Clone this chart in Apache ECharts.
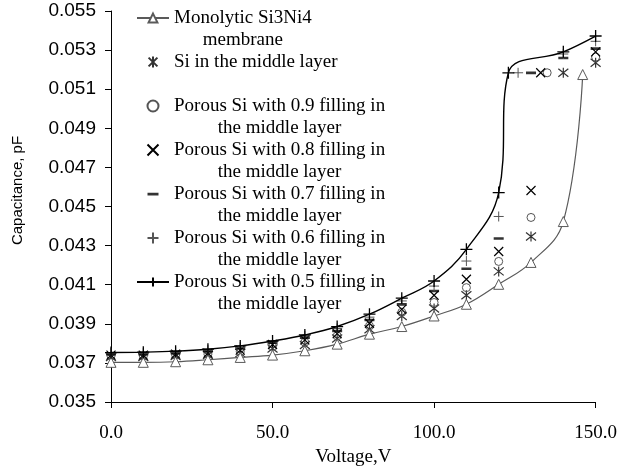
<!DOCTYPE html>
<html>
<head>
<meta charset="utf-8">
<title>Capacitance vs voltage</title>
<script src="https://cdn.jsdelivr.net/npm/echarts@6/dist/echarts.min.js"></script>
<style>
  html, body { margin: 0; padding: 0; background: #fff; }
  #chart { width: 620px; height: 474px; }
</style>
</head>
<body>
<div id="chart"></div>
<script>
// voltage (V) and capacitance (pF)
var monoX  = [0, 10, 20, 30, 40, 50, 60, 70, 80, 90, 100, 110, 120, 130, 140, 146];
var monoY  = [0.03703, 0.03703, 0.03706, 0.03716, 0.03728, 0.0374, 0.03762, 0.03796, 0.03847, 0.03886, 0.0394, 0.04, 0.04102, 0.04214, 0.04423, 0.05175];
var siX    = [0, 10, 20, 30, 40, 50, 60, 70, 80, 90, 100, 110, 120, 130, 140, 150];
var siY    = [0.0373, 0.0373, 0.03735, 0.0374, 0.0375, 0.03774, 0.03792, 0.03825, 0.03872, 0.0394, 0.03978, 0.04046, 0.04168, 0.04347, 0.05184, 0.05235];
var fill09X = [0, 10, 20, 30, 40, 50, 60, 70, 80, 90, 100, 110, 120, 130, 135, 150];
var fill09Y = [0.03735, 0.03735, 0.0374, 0.03745, 0.03757, 0.03784, 0.03806, 0.03838, 0.03889, 0.03959, 0.04009, 0.04085, 0.04219, 0.04444, 0.05184, 0.05264];
var fill08X = [0, 10, 20, 30, 40, 50, 60, 70, 80, 90, 100, 110, 120, 130, 133, 150];
var fill08Y = [0.0374, 0.0374, 0.03745, 0.0375, 0.03765, 0.03794, 0.03818, 0.0385, 0.03903, 0.03974, 0.04046, 0.04128, 0.0427, 0.04582, 0.05184, 0.05291];
var fill07X = [0, 10, 20, 30, 40, 50, 60, 70, 80, 90, 100, 110, 120, 130, 140, 150];
var fill07Y = [0.03745, 0.03745, 0.0375, 0.0376, 0.03775, 0.03804, 0.0383, 0.03864, 0.0392, 0.04, 0.04068, 0.04182, 0.04337, 0.05184, 0.0526, 0.05308];
var fill06X = [0, 10, 20, 30, 40, 50, 60, 70, 80, 90, 100, 110, 120, 126, 140, 150];
var fill06Y = [0.0375, 0.0375, 0.03755, 0.03765, 0.0378, 0.03808, 0.03838, 0.03876, 0.03934, 0.04017, 0.04093, 0.04221, 0.04449, 0.05184, 0.0528, 0.05345];
var fill05X = [0, 10, 20, 30, 40, 50, 60, 70, 80, 90, 100, 110, 120, 123, 140, 150];
var fill05Y = [0.03753, 0.03755, 0.0376, 0.0377, 0.03787, 0.03812, 0.03843, 0.03886, 0.03949, 0.04031, 0.04119, 0.04281, 0.04571, 0.05184, 0.05291, 0.05372];

var seriesNames = [
    'Monolytic Si3Ni4 membrane',
    'Si in the middle layer',
    'Porous Si with 0.9 filling in the middle layer',
    'Porous Si with 0.8 filling in the middle layer',
    'Porous Si with 0.7 filling in the middle layer',
    'Porous Si with 0.6 filling in the middle layer',
    'Porous Si with 0.5 filling in the middle layer'
];
// legend text is wrapped on two lines like in the figure
var legendLines = [
    ['Monolytic Si3Ni4', 'membrane'],
    ['Si in the middle layer', ' '],
    ['Porous Si with 0.9 filling in', 'the middle layer'],
    ['Porous Si with 0.8 filling in', 'the middle layer'],
    ['Porous Si with 0.7 filling in', 'the middle layer'],
    ['Porous Si with 0.6 filling in', 'the middle layer'],
    ['Porous Si with 0.5 filling in', 'the middle layer']
];

function pairs(xs, ys) {
    var out = [];
    for (var i = 0; i < xs.length; i++) out.push([xs[i], ys[i]]);
    return out;
}

var serif = '"Liberation Serif", "Times New Roman", serif';
var sans = '"Liberation Sans", Arial, sans-serif';

var plusPath = 'path://M5,0L5,10M0,5L10,5';
var crossPath = 'path://M0,0L10,10M10,0L0,10';
var starPath = 'path://M1,1L9,9M9,1L1,9M5,0L5,10';
// thick dash, with two tiny corner dots so the box stays square
var dashPath = 'path://M0,3.8h10v2.6h-10zM0,0h0.01v0.01h-0.01zM9.99,9.99h0.01v0.01h-0.01z';

function markerSeries(name, data, symbol, size, color, width) {
    return {
        name: name,
        type: 'scatter',
        data: data,
        symbol: symbol,
        symbolSize: size,
        itemStyle: { color: 'rgba(0,0,0,0)', borderColor: color, borderWidth: width, opacity: 1 },
        emphasis: { disabled: true }
    };
}

var myChart = echarts.init(document.getElementById('chart'));
var option = {
    animation: false,
    backgroundColor: '#fff',
    grid: { left: 111, right: 24, top: 11, bottom: 72 },
    xAxis: {
        type: 'value',
        min: 0, max: 150, interval: 50,
        name: 'Voltage,V',
        nameLocation: 'middle',
        nameGap: 45,
        nameTextStyle: { fontFamily: serif, fontSize: 19, color: '#000' },
        axisLine: { lineStyle: { color: '#000', width: 1 } },
        axisTick: { show: true, length: 6, lineStyle: { color: '#000' } },
        axisLabel: { fontFamily: serif, fontSize: 19, color: '#000', margin: 22,
            formatter: function (v) { return v.toFixed(1); } },
        splitLine: { show: false }
    },
    yAxis: {
        type: 'value',
        min: 0.035, max: 0.055, interval: 0.002,
        name: 'Capacitance, pF',
        nameLocation: 'middle',
        nameRotate: 90,
        nameGap: 86,
        nameTextStyle: { fontFamily: sans, fontSize: 15, color: '#000', padding: [0, 0, 0, 32] },
        axisLine: { show: true, lineStyle: { color: '#000', width: 1 } },
        axisTick: { show: true, length: 6, lineStyle: { color: '#000' } },
        axisLabel: { fontFamily: sans, fontSize: 19, color: '#000', margin: 15,
            formatter: function (v) { return v.toFixed(3); } },
        splitLine: { show: false }
    },
    legend: {
        orient: 'vertical',
        left: 136,
        top: -15,
        padding: 0,
        itemGap: -22,
        itemWidth: 32,
        itemHeight: 11,
        data: seriesNames,
        formatter: function (name) {
            var l = legendLines[seriesNames.indexOf(name)];
            return '{c|' + l[0] + '}\n{c|' + l[1] + '}';
        },
        textStyle: {
            fontFamily: serif, fontSize: 19, lineHeight: 22, color: '#000',
            padding: [22, 0, 0, 0],
            rich: { c: { align: 'center', fontFamily: serif, fontSize: 19, lineHeight: 22, color: '#000' } }
        },
        selectedMode: false
    },
    series: [
        {
            name: seriesNames[0],
            type: 'line',
            data: pairs(monoX, monoY),
            smooth: 0.4,
            symbol: 'triangle',
            symbolSize: 10,
            showAllSymbol: true,
            lineStyle: { color: '#5a5a5a', width: 1.2 },
            itemStyle: { color: '#fff', borderColor: '#5a5a5a', borderWidth: 1 },
            emphasis: { disabled: true }
        },
        markerSeries(seriesNames[1], pairs(siX, siY), starPath, 10, '#333', 1.2),
        markerSeries(seriesNames[2], pairs(fill09X, fill09Y), 'circle', 8, '#555', 1),
        markerSeries(seriesNames[3], pairs(fill08X, fill08Y), crossPath, 9, '#000', 1.2),
        {
            name: seriesNames[4],
            type: 'scatter',
            data: pairs(fill07X, fill07Y),
            symbol: dashPath,
            symbolSize: 10,
            itemStyle: { color: '#000' },
            emphasis: { disabled: true }
        },
        markerSeries(seriesNames[5], pairs(fill06X, fill06Y), plusPath, 10, '#555', 1),
        {
            name: seriesNames[6],
            type: 'line',
            data: pairs(fill05X, fill05Y),
            smooth: 0.4,
            symbol: plusPath,
            symbolSize: 12,
            showAllSymbol: true,
            lineStyle: { color: '#000', width: 1.4 },
            itemStyle: { color: 'rgba(0,0,0,0)', borderColor: '#000', borderWidth: 1.3 },
            emphasis: { disabled: true }
        }
    ]
};
myChart.setOption(option);
</script>
</body>
</html>
